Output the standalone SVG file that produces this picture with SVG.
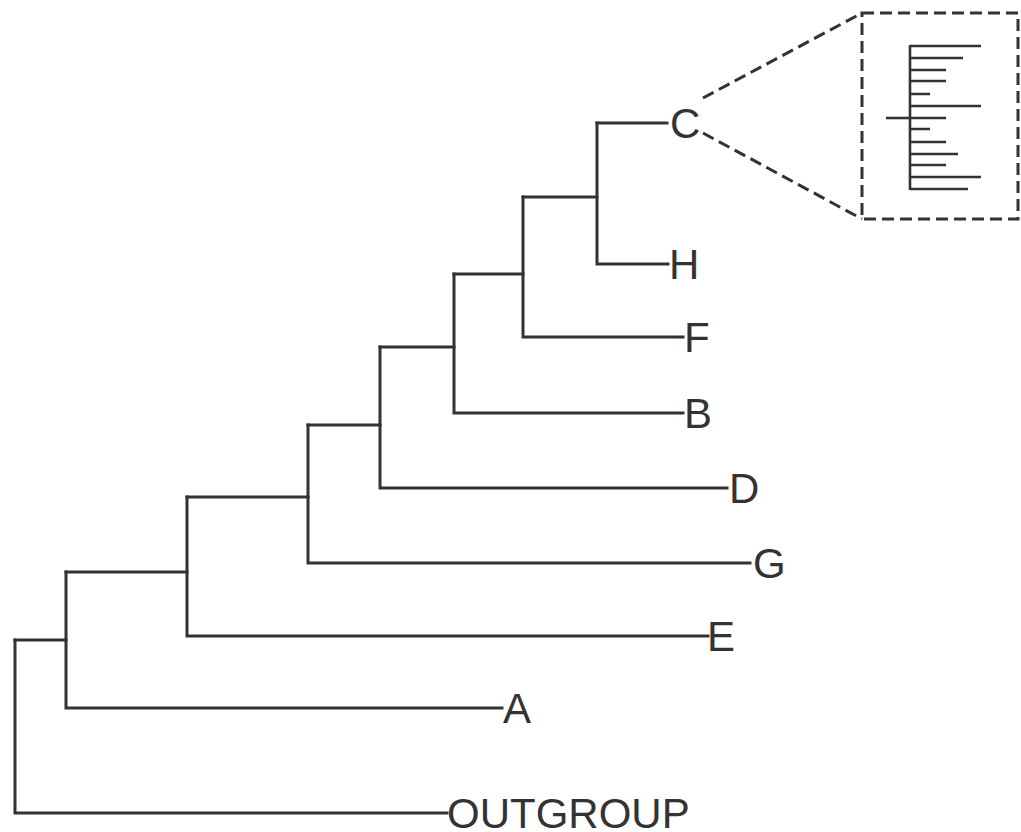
<svg xmlns="http://www.w3.org/2000/svg" width="1021" height="832" viewBox="0 0 1021 832">
<style>
.br{fill:none;stroke:#333;stroke-width:3;stroke-linecap:square;stroke-linejoin:miter}
.dash{fill:none;stroke:#333;stroke-width:3;stroke-dasharray:12 6}
.in{fill:none;stroke:#333;stroke-width:2.6}
text{font-family:"Liberation Sans",Arial,sans-serif;font-size:42px;fill:#333}
</style>
<rect width="1021" height="832" fill="#fff"/>
<g id="connectors">
<path class="br" d="M15,640 V813 H447"/>
<path class="br" d="M15,640 H66"/>
<path class="br" d="M66,572 V708 H502"/>
<path class="br" d="M66,572 H187"/>
<path class="br" d="M187,497 V636 H708"/>
<path class="br" d="M187,497 H308"/>
<path class="br" d="M308,425 V563 H750"/>
<path class="br" d="M308,425 H380"/>
<path class="br" d="M380,347 V488 H727"/>
<path class="br" d="M380,347 H454"/>
<path class="br" d="M454,274 V413 H683"/>
<path class="br" d="M454,274 H523"/>
<path class="br" d="M523,197 V337 H683"/>
<path class="br" d="M523,197 H597"/>
<path class="br" d="M597,123 V264 H668"/>
<path class="br" d="M597,123 H667"/>
<path class="dash" d="M703,98 L862,13"/>
<path class="dash" d="M703,133 L862,219"/>
</g>
<g id="node-C"><text x="670" y="138">C</text></g>
<g id="node-H"><text x="669" y="279">H</text></g>
<g id="node-F"><text x="684" y="352">F</text></g>
<g id="node-B"><text x="684" y="428">B</text></g>
<g id="node-D"><text x="729" y="503">D</text></g>
<g id="node-G"><text x="753" y="578">G</text></g>
<g id="node-E"><text x="707" y="651">E</text></g>
<g id="node-A"><text x="503" y="723">A</text></g>
<g id="node-OUTGROUP"><text x="447" y="828">OUTGROUP</text></g>
<g id="inset">
<rect class="dash" x="862" y="13" width="156" height="206"/>
<path class="in" d="M910,45 V190"/>
<path class="in" d="M886,118 H910"/>
<path class="in" d="M910,46 H981 M910,58 H963 M910,70 H946 M910,81 H946 M910,94 H930 M910,106 H981 M910,118 H946 M910,129 H930 M910,142 H946 M910,154 H958 M910,165 H946 M910,177 H981 M910,189 H968"/>
</g>
</svg>
